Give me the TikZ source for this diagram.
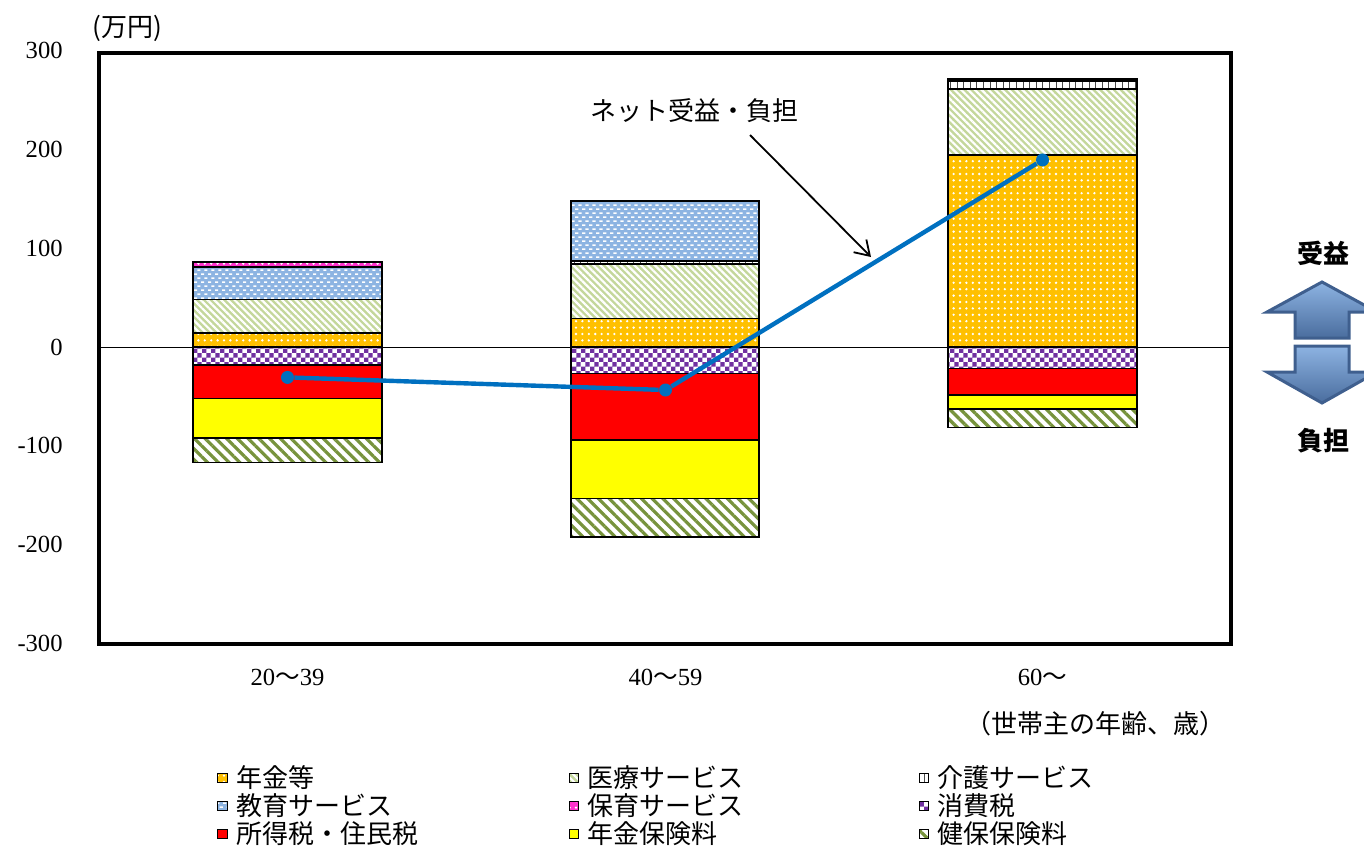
\documentclass[tikz,border=0pt]{standalone}
\usepackage{fontspec}
\setmainfont{Liberation Serif}
\newfontfamily\cjk{Noto Sans CJK JP}
\usetikzlibrary{patterns,patterns.meta,arrows.meta,positioning}

\definecolor{cNenkin}{HTML}{FFC000}
\definecolor{cIryo}{HTML}{C4D79B}
\definecolor{cKyoiku}{HTML}{8DB4E2}
\definecolor{cHoiku}{HTML}{FF33CC}
\definecolor{cShohi}{HTML}{7030A0}
\definecolor{cShotoku}{HTML}{FF0000}
\definecolor{cHoken}{HTML}{FFFF00}
\definecolor{cKenpo}{HTML}{77933C}
\definecolor{cNet}{HTML}{0070C0}
\definecolor{cArrBd}{HTML}{3F5F8E}
\definecolor{cArrTop}{HTML}{8DB3E2}
\definecolor{cArrBot}{HTML}{4A6D9E}

% white dashes on blue
\pgfdeclarepatternformonly{kdash}{\pgfpointorigin}{\pgfqpoint{3.6pt}{4.2pt}}{\pgfqpoint{3.6pt}{4.2pt}}{%
  \pgfpathrectangle{\pgfqpoint{0.1pt}{0.6pt}}{\pgfqpoint{1.7pt}{0.8pt}}%
  \pgfpathrectangle{\pgfqpoint{1.9pt}{2.7pt}}{\pgfqpoint{1.7pt}{0.8pt}}%
  \pgfusepath{fill}}
% small checks
\pgfdeclarepatternformonly{chk}{\pgfpointorigin}{\pgfqpoint{4.4pt}{4.4pt}}{\pgfqpoint{4.4pt}{4.4pt}}{%
  \pgfpathrectangle{\pgfpointorigin}{\pgfqpoint{2.2pt}{2.2pt}}%
  \pgfpathrectangle{\pgfqpoint{2.2pt}{2.2pt}}{\pgfqpoint{2.2pt}{2.2pt}}%
  \pgfusepath{fill}}

\tikzset{
  seg/.style={draw=black,line width=0.8pt},
  nenkin/.style={preaction={fill=cNenkin},pattern={Dots[radius=0.65pt,distance=3.2pt]},pattern color=white},
  iryo/.style={preaction={fill=cIryo},pattern={Lines[angle=-45,distance=2.4pt,line width=1.1pt]},pattern color=white},
  kaigo/.style={preaction={fill=white},pattern={Lines[angle=90,distance=3.3pt,line width=0.5pt]},pattern color=black!70},
  kyoiku/.style={preaction={fill=cKyoiku},pattern=kdash,pattern color=white},
  hoiku/.style={preaction={fill=cHoiku},pattern={Dots[radius=0.65pt,distance=3.2pt]},pattern color=white},
  shohi/.style={preaction={fill=white},pattern=chk,pattern color=cShohi},
  shotoku/.style={fill=cShotoku},
  hoken/.style={fill=cHoken},
  kenpo/.style={preaction={fill=white},pattern={Lines[angle=-45,distance=3.8pt,line width=1.6pt]},pattern color=cKenpo},
  tick/.style={anchor=east,inner sep=0pt,font=\fontsize{12.3}{14}\selectfont},
  xlab/.style={inner sep=0pt,font=\fontsize{12.3}{14}\selectfont},
  jtxt/.style={inner sep=0pt,font=\cjk\fontsize{13}{15}\selectfont},
  jbold/.style={inner sep=0pt,font=\cjk\bfseries\fontsize{13}{15}\selectfont},
  netdot/.style={circle,fill=cNet,inner sep=0pt,minimum size=6.5pt},
  netline/.style={cNet,line width=2.2pt},
  lgbox/.style={draw=black,line width=0.6pt,minimum size=4.8pt,inner sep=0pt},
  bigarr/.style={draw=cArrBd,line width=1.5pt,top color=cArrTop,bottom color=cArrBot}
}

\begin{document}
\begin{tikzpicture}[x=0.5pt,y=-0.5pt]
    \clip (0,0) rectangle (1364,846);

    % values in 万円 from here on
    \begin{scope}[shift={(0,347)},y=0.4935pt]
        \draw[line width=0.5pt] (99,0) -- (1231,0);
        \foreach \v in {-300,-200,...,300}
            \node[tick] (yt\v) at (63,\v) {\v};

        \begin{scope}[shift={(193,0)}]
            \foreach \lo/\hi/\kind in {0/13.9/nenkin,13.9/48.3/iryo,48.3/80.8/kyoiku,80.8/86.4/hoiku,
                0/-18.2/shohi,-18.2/-52/shotoku,-52/-91.9/hoken,-91.9/-117.2/kenpo}
                \draw[seg,\kind] (0,\lo) rectangle (189,\hi);
        \end{scope}
        \begin{scope}[shift={(571,0)}]
            \foreach \lo/\hi/\kind in {0/29/nenkin,29/84.1/iryo,84.1/87.1/kaigo,87.1/147.9/kyoiku,
                0/-26.7/shohi,-26.7/-94.2/shotoku,-94.2/-153.3/hoken,-153.3/-192.2/kenpo}
                \draw[seg,\kind] (0,\lo) rectangle (188,\hi);
        \end{scope}
        \begin{scope}[shift={(948,0)}]
            \foreach \lo/\hi/\kind in {0/194.5/nenkin,194.5/261.5/iryo,261.5/269.5/kaigo,269.5/271/kyoiku,271/272.2/hoiku,
                0/-21.6/shohi,-21.6/-48.6/shotoku,-48.6/-62.8/hoken,-62.8/-81.4/kenpo}
                \draw[seg,\kind] (0,\lo) rectangle (189,\hi);
        \end{scope}

        \node[netdot] (net1) at (287.5,-30.8) {};
        \node[netdot] (net2) at (665.5,-43.6) {};
        \node[netdot] (net3) at (1042.5,189.5) {};
        \draw[netline] (net1) -- (net2) -- (net3);
    \end{scope}

    \draw[line width=2pt] (99,52.5) rectangle (1231,643.5);

    \node[jtxt] (unit) at (127,28) {(万円)};
    \node[xlab] (age1) at (287.5,677) {20{\cjk 〜}39};
    \node[xlab] (age2) at (665.5,677) {40{\cjk 〜}59};
    \node[xlab] (age3) at (1042.5,677) {60{\cjk 〜}};
    \node[jtxt,anchor=east] (agettl) at (1226,724) {（世帯主の年齢、歳）};

    \node[jtxt] (netlbl) at (694,111) {ネット受益・負担};
    \coordinate (netfrom) at (750,135);
    \coordinate (netto) at (871,257);
    \draw[line width=0.9pt,-{Straight Barb[length=7pt,width=9pt]}] (netfrom) -- (netto);

    % benefit / burden arrows
    \node[jbold] (jueki) at (1323,253) {受益};
    \node[jbold] (futan) at (1323,441) {負担};
    \draw[bigarr] (1322,282) -- (1377,312) -- (1349,312) -- (1349,338) -- (1295,338) -- (1295,312) -- (1267,312) -- cycle;
    \draw[bigarr] (1295,346) -- (1349,346) -- (1349,372) -- (1377,372) -- (1322,403) -- (1267,372) -- (1295,372) -- cycle;

    % legend
    \foreach \kind/\px/\py/\txt in {nenkin/222.5/778/年金等,iryo/574/778/医療サービス,kaigo/924/778/介護サービス,
        kyoiku/222.5/806/教育サービス,hoiku/574/806/保育サービス,shohi/924/806/消費税,
        shotoku/222.5/834/所得税・住民税,hoken/574/834/年金保険料,kenpo/924/834/健保保険料}{
        \node[lgbox,\kind] (lg\kind) at (\px,\py) {};
        \node[jtxt,right=4pt of lg\kind] (lt\kind) {\txt};
    }
\end{tikzpicture}
\end{document}
